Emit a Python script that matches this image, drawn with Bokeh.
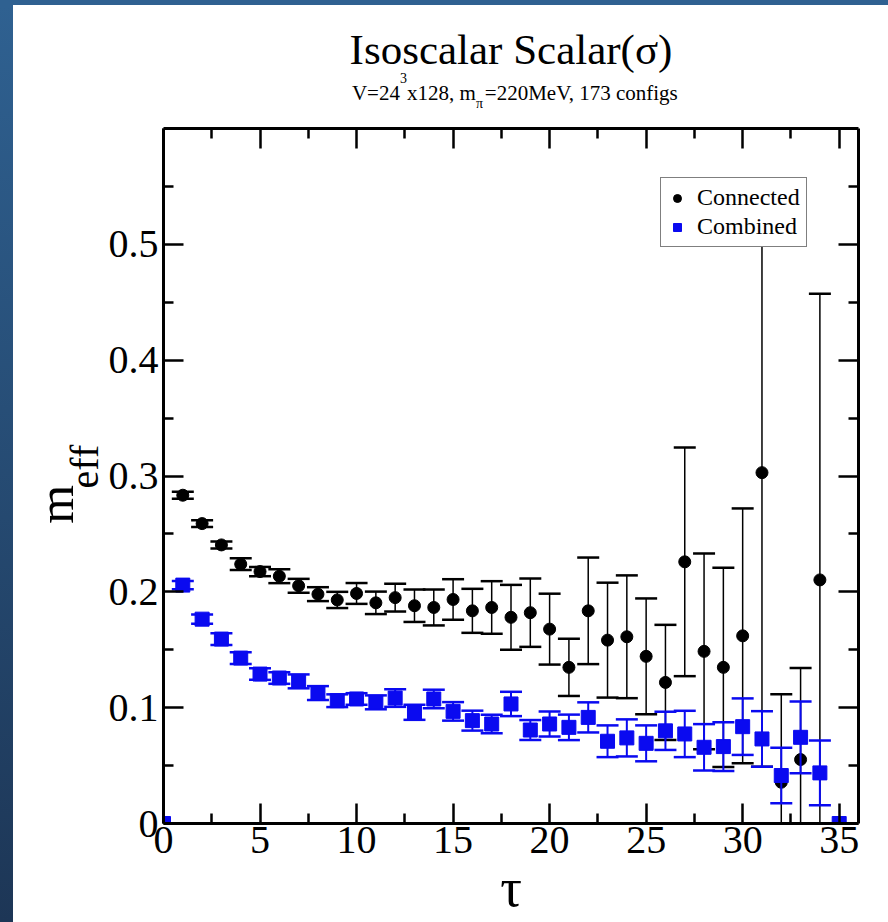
import numpy as np
from bokeh.plotting import figure
from bokeh.models import (ColumnDataSource, LinearAxis, FixedTicker, Label, Legend,
                          LegendItem, Range1d, Div)
from bokeh.layouts import column, row
from bokeh.embed import file_html
from bokeh.resources import INLINE

# ---------------- data ----------------
tau_connected = list(range(1, 35))
m_connected = [0.2834, 0.2589, 0.2405, 0.2239, 0.2175, 0.2135, 0.2052, 0.1980, 0.1930, 0.1986,
               0.1905, 0.1950, 0.1880, 0.1865, 0.1934, 0.1836, 0.1865, 0.1780, 0.1820, 0.1678,
               0.1348, 0.1836, 0.1583, 0.1612, 0.1443, 0.1218, 0.2259, 0.1486, 0.1348, 0.1620,
               0.3029, 0.0356, 0.0552, 0.2103]
err_connected = [0.003, 0.003, 0.003, 0.005, 0.004, 0.006, 0.006, 0.006, 0.007, 0.009,
                 0.0097, 0.012, 0.014, 0.0155, 0.0175, 0.019, 0.0227, 0.028, 0.0295, 0.0306,
                 0.0247, 0.046, 0.0496, 0.053, 0.050, 0.0497, 0.0987, 0.0845, 0.086, 0.110,
                 0.254, 0.076, 0.079, 0.247]

tau_combined = list(range(0, 36))
m_combined = [0.0, 0.2058, 0.1764, 0.1592, 0.1428, 0.1290, 0.1256, 0.1227, 0.1126, 0.1060,
              0.1075, 0.1046, 0.1083, 0.0960, 0.1075, 0.0968, 0.0888, 0.0859, 0.1032, 0.0807,
              0.0859, 0.0830, 0.0916, 0.0710, 0.0739, 0.0692, 0.0800, 0.0773, 0.0658, 0.0664,
              0.0836, 0.0730, 0.0414, 0.0744, 0.0437, 0.0]
err_combined = [0.0, 0.0036, 0.004, 0.005, 0.005, 0.005, 0.005, 0.006, 0.006, 0.0055,
                0.005, 0.006, 0.0076, 0.0065, 0.008, 0.008, 0.0086, 0.008, 0.0105, 0.0086,
                0.0108, 0.011, 0.013, 0.0137, 0.016, 0.0155, 0.0165, 0.020, 0.020, 0.021,
                0.0244, 0.024, 0.024, 0.031, 0.028, 0.0]

x_ticks = [0, 5, 10, 15, 20, 25, 30, 35]
x_minor = [2.5, 7.5, 12.5, 17.5, 22.5, 27.5, 32.5]
y_ticks = [0, 0.1, 0.2, 0.3, 0.4, 0.5]
y_minor = [0.05, 0.15, 0.25, 0.35, 0.45, 0.55]

title_text = "Isoscalar Scalar(σ)"
subtitle_pieces = ["V=24", "3", "x128, m", "π", "=220MeV, 173 configs"]
x_label = "τ"
y_label = ["m", "eff"]
series_names = ["Connected", "Combined"]

# ---------------- geometry (page px, page origin = window corner) ----------------
FONT = "Liberation Serif"
ROOT = -8              # where the layout root lands (negative margin cancels the body margin)
VIS_L, VIS_T = 13, 5   # visible width / height of the blue bands
TITLE_H = 105          # page y 5 .. 110
MAIN_H = 812           # page y 110 .. 922
YLAB_W = 92            # page x 13 .. 105
MAIN_W = 783           # page x 105 .. 888
INNER_W = YLAB_W + MAIN_W
TITLE_TOP = VIS_T
MAIN_TOP = VIS_T + TITLE_H
MID = 0.3375           # (ascent - descent) / 2 in em: text-box middle above the baseline


def text_fig(w, h):
    f = figure(width=w, height=h, x_range=Range1d(0, w), y_range=Range1d(0, h),
               x_axis_type=None, y_axis_type=None, output_backend="svg",
               toolbar_location=None, min_border=0,
               background_fill_color="white", border_fill_color="white")
    f.outline_line_color = None
    return f


def put(f, left, top, h, px, py, text, size, angle=0.0):
    # (px, py): page position of the text box centre
    f.add_layout(Label(x=px - left, y=(top + h) - py, text=text, text_font=FONT,
                       text_font_size=f"{size}px", text_color="black",
                       text_align="center", text_baseline="middle", angle=angle))


# ---------------- main figure ----------------
p = figure(width=MAIN_W, height=MAIN_H, x_range=Range1d(0, 36), y_range=Range1d(0, 0.6),
           output_backend="svg", toolbar_location=None,
           min_border_left=58, min_border_right=30, min_border_top=18, min_border_bottom=99,
           background_fill_color="white", border_fill_color="white")
p.outline_line_color = None
p.xgrid.grid_line_color = None
p.ygrid.grid_line_color = None


def style_axis(ax, ticks, minor, show_labels):
    ax.ticker = FixedTicker(ticks=ticks, minor_ticks=minor)
    ax.axis_line_width = 3
    ax.axis_line_color = "black"
    ax.major_tick_in = 20
    ax.major_tick_out = 0
    ax.minor_tick_in = 10
    ax.minor_tick_out = 0
    ax.major_tick_line_width = 2.5
    ax.minor_tick_line_width = 2.5
    ax.major_tick_line_color = "black"
    ax.minor_tick_line_color = "black"
    ax.major_label_text_font = FONT
    ax.major_label_text_color = "black"
    if show_labels:
        ax.major_label_text_font_size = "40px"
    else:
        ax.major_label_text_font_size = "10px"
        ax.major_label_overrides = {t: "" for t in ticks}
        ax.major_label_standoff = 0


style_axis(p.xaxis[0], x_ticks, x_minor, True)
style_axis(p.yaxis[0], y_ticks, y_minor, True)
p.xaxis[0].major_label_standoff = 3
p.yaxis[0].major_label_standoff = 5
p.yaxis[0].major_label_overrides = {0: "0"}
p.xaxis[0].axis_label = x_label
p.xaxis[0].axis_label_text_font = FONT
p.xaxis[0].axis_label_text_font_size = "54px"
p.xaxis[0].axis_label_text_font_style = "normal"
p.xaxis[0].axis_label_text_color = "black"
p.xaxis[0].axis_label_standoff = 2

top_ax = LinearAxis()
style_axis(top_ax, x_ticks, x_minor, False)
p.add_layout(top_ax, "above")
right_ax = LinearAxis()
style_axis(right_ax, y_ticks, y_minor, False)
p.add_layout(right_ax, "right")

src_c = ColumnDataSource(dict(
    x=tau_connected, y=m_connected,
    lo=[v - e for v, e in zip(m_connected, err_connected)],
    hi=[v + e for v, e in zip(m_connected, err_connected)]))
src_b = ColumnDataSource(dict(
    x=tau_combined, y=m_combined,
    lo=[v - e for v, e in zip(m_combined, err_combined)],
    hi=[v + e for v, e in zip(m_combined, err_combined)]))

BLUE = "#0a0af0"
p.segment(x0="x", y0="lo", x1="x", y1="hi", source=src_c, line_color="black", line_width=1.5)
p.scatter(x="x", y="hi", source=src_c, marker="dash", size=22, line_color="black", line_width=2.5)
p.scatter(x="x", y="lo", source=src_c, marker="dash", size=22, line_color="black", line_width=2.5)
r_c = p.scatter(x="x", y="y", source=src_c, marker="circle", size=12,
                fill_color="black", line_color="black")

p.segment(x0="x", y0="lo", x1="x", y1="hi", source=src_b, line_color=BLUE, line_width=2)
p.scatter(x="x", y="hi", source=src_b, marker="dash", size=22, line_color=BLUE, line_width=2.5)
p.scatter(x="x", y="lo", source=src_b, marker="dash", size=22, line_color=BLUE, line_width=2.5)
r_b = p.scatter(x="x", y="y", source=src_b, marker="square", size=14,
                fill_color=BLUE, line_color=BLUE)

legend = Legend(items=[LegendItem(label=series_names[0], renderers=[r_c]),
                       LegendItem(label=series_names[1], renderers=[r_b])],
                location=(497, 576))
legend.label_text_font = FONT
legend.label_text_font_size = "24px"
legend.label_text_color = "black"
legend.border_line_color = "black"
legend.border_line_width = 1.5
legend.background_fill_color = "white"
legend.background_fill_alpha = 1
legend.padding = 6
legend.spacing = 2
legend.glyph_width = 20
legend.glyph_height = 24
legend.label_standoff = 10
legend.label_height = 24
legend.margin = 0
p.add_layout(legend, "center")

# ---------------- title strip ----------------
tf = text_fig(INNER_W, TITLE_H)


def put_t(px, py, text, size):
    put(tf, VIS_L, TITLE_TOP, TITLE_H, px, py, text, size)


put_t(510.5, 64 - MID * 43, title_text, 43)

# subtitle pieces, widths from Times/Liberation Serif metrics (em units)
W = {"V": .722, "=": .564, "2": .5, "4": .5, "x": .5, "1": .5, "8": .5, ",": .25, " ": .25,
     "m": .778, "0": .5, "M": .889, "e": .444, "7": .5, "3": .5, "c": .444, "o": .5, "n": .5,
     "f": .333, "i": .278, "g": .5, "s": .389, "π": .55}
sizes = [21, 14, 21, 14, 21]
baselines = [100, 82, 100, 108, 100]
widths = [sum(W.get(ch, .5) for ch in t) * s for t, s in zip(subtitle_pieces, sizes)]
xx = 515 - sum(widths) / 2
for t, s, b, w in zip(subtitle_pieces, sizes, baselines, widths):
    put_t(xx + w / 2, b - MID * s, t, s)
    xx += w

# ---------------- y label strip ----------------
yf = text_fig(YLAB_W, MAIN_H)
put(yf, VIS_L, MAIN_TOP, MAIN_H, 72 - MID * 50, 549, y_label[0], 50, angle=np.pi / 2)
put(yf, VIS_L, MAIN_TOP, MAIN_H, 97 - MID * 40, 505, y_label[1], 40, angle=np.pi / 2)

# ---------------- page ----------------
top_band = Div(width=(VIS_L - ROOT) + INNER_W, height=VIS_T - ROOT, margin=0,
               styles={"background-color": "#2f6191"})
left_band = Div(width=VIS_L - ROOT, height=TITLE_H + MAIN_H, margin=0,
                styles={"background": "linear-gradient(to bottom, #2f6191 0%, #1d3656 100%)"})
inner = column(tf, row(yf, p, spacing=0), spacing=0)
page = column(top_band, row(left_band, inner, spacing=0), spacing=0,
              styles={"margin-left": f"{ROOT}px", "margin-top": f"{ROOT}px"})

open("out.html", "w").write(file_html(page, INLINE))
